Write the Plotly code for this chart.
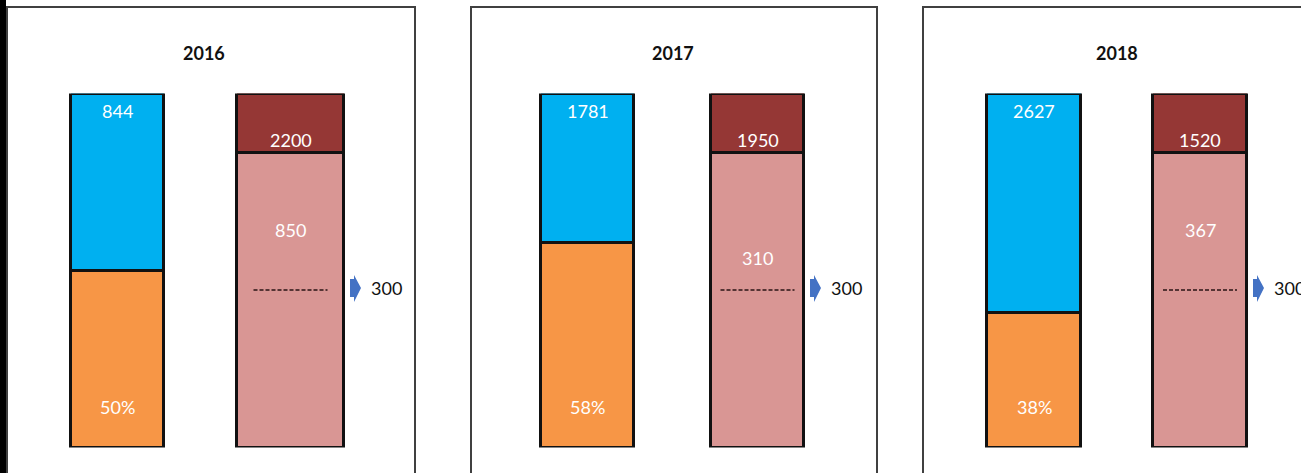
import plotly.graph_objects as go

# ---- data ----
years = ["2016", "2017", "2018"]
customers = [844, 1781, 2627]          # blue segment labels
orange_pct = [50, 58, 38]              # orange share of the left bar (%)
cap_values = [2200, 1950, 1520]        # dark red cap labels
base_values = [850, 310, 367]          # pink base labels
threshold = [300, 300, 300]            # marker value beside the right bar
cap_share = [16.8, 16.8, 16.8]         # right bar: cap share (%)
base_share = [83.2, 83.2, 83.2]        # right bar: base share (%)
threshold_level = [44.5, 44.5, 44.5]   # height of the dashed marker in the right bar (%)

# ---- layout constants (pixels) ----
W, H = 1301, 473
PANEL_LEFT = [7, 471, 923]
PANEL_RIGHT = [415, 877, 1330]
LEFT_CX = [117.5, 587.5, 1034.3]
RIGHT_CX = [290.5, 757.5, 1200.0]
LEFT_W = [93, 93, 94]
RIGHT_W = [107, 93, 94]
BAR_TOP_PX, BAR_BOTTOM_PX = 93.5, 447.5
PINK_LABEL_Y = [61.5, 53.5, 61.5]

BLUE = "#00B0F0"
ORANGE = "#F79646"
DARK_RED = "#953735"
PINK = "#D99694"
ARROW = "#4472C4"
FONT = "Lato"

# block arrow outline, in pixels relative to the right bar edge / marker level
ARROW_PATH = "M 6,-7 L 10,-7 L 10,-12 L 17,2 L 10,15 L 10,11 L 6,11 Z"

fig = go.Figure()
annotations = []
shapes = []

y_dom = [1 - BAR_BOTTOM_PX / H, 1 - BAR_TOP_PX / H]

for i, year in enumerate(years):
    n = i + 1
    xa = "x" if n == 1 else f"x{n}"
    ya = "y" if n == 1 else f"y{n}"
    unit = RIGHT_CX[i] - LEFT_CX[i]          # pixels per x unit
    right_px = min(PANEL_RIGHT[i], W)
    x_lo = (PANEL_LEFT[i] - LEFT_CX[i]) / unit
    x_hi = (right_px - LEFT_CX[i]) / unit
    lw = LEFT_W[i] / unit
    rw = RIGHT_W[i] / unit
    line = dict(color="#111111", width=3)

    # left bar: orange share at the bottom, blue remainder on top
    fig.add_trace(go.Bar(x=[0], y=[orange_pct[i]], width=[lw], marker=dict(color=ORANGE, line=line),
                         xaxis=xa, yaxis=ya, showlegend=False, hoverinfo="skip"))
    fig.add_trace(go.Bar(x=[0], y=[100 - orange_pct[i]], width=[lw], marker=dict(color=BLUE, line=line),
                         xaxis=xa, yaxis=ya, showlegend=False, hoverinfo="skip"))
    # right bar: pink base and dark red cap
    fig.add_trace(go.Bar(x=[1], y=[base_share[i]], width=[rw], marker=dict(color=PINK, line=line),
                         xaxis=xa, yaxis=ya, showlegend=False, hoverinfo="skip"))
    fig.add_trace(go.Bar(x=[1], y=[cap_share[i]], width=[rw], marker=dict(color=DARK_RED, line=line),
                         xaxis=xa, yaxis=ya, showlegend=False, hoverinfo="skip"))

    # dashed marker inside the pink base
    half = 37 / unit
    fig.add_trace(go.Scatter(x=[1 - half, 1 + half], y=[threshold_level[i]] * 2, mode="lines",
                             line=dict(color="#2a1414", width=1.5, dash="4px,2px"),
                             xaxis=xa, yaxis=ya, showlegend=False, hoverinfo="skip"))

    edge = 1 + rw / 2
    # arrow pointing at the marker
    shapes.append(dict(type="path", xref=xa, yref=ya, xsizemode="pixel", ysizemode="pixel",
                       xanchor=edge, yanchor=threshold_level[i], path=ARROW_PATH,
                       fillcolor=ARROW, line=dict(width=0)))

    fig.layout[f"xaxis{'' if n == 1 else n}"] = dict(
        domain=[PANEL_LEFT[i] / W, right_px / W], range=[x_lo, x_hi], visible=False,
        fixedrange=True, anchor=ya)
    fig.layout[f"yaxis{'' if n == 1 else n}"] = dict(
        domain=y_dom, range=[0, 100], visible=False, fixedrange=True, anchor=xa)

    txt = dict(color="white", size=18, family=FONT)
    annotations += [
        dict(x=0.5, y=1 - 53 / H, xref=xa, yref="paper", text=f"<b>{year}</b>", showarrow=False,
             font=dict(color="#111111", size=18, family=FONT), xanchor="center", yanchor="middle"),
        dict(x=0, y=100, xref=xa, yref=ya, text=str(customers[i]), showarrow=False, font=txt,
             yanchor="middle", yshift=-17),
        dict(x=0, y=0, xref=xa, yref=ya, text=f"{orange_pct[i]}%", showarrow=False, font=txt,
             yanchor="middle", yshift=41),
        dict(x=1, y=base_share[i], xref=xa, yref=ya, text=str(cap_values[i]), showarrow=False, font=txt,
             yanchor="middle", yshift=13),
        dict(x=1, y=PINK_LABEL_Y[i], xref=xa, yref=ya, text=str(base_values[i]), showarrow=False, font=txt,
             yanchor="middle"),
        dict(x=edge + 25 / unit, y=threshold_level[i] + 0.6, xref=xa, yref=ya, text=str(threshold[i]),
             showarrow=False, font=dict(color="#111111", size=18, family=FONT),
             xanchor="left", yanchor="middle"),
    ]
    # panel frame
    shapes.append(dict(type="rect", xref="paper", yref="paper",
                       x0=PANEL_LEFT[i] / W, x1=PANEL_RIGHT[i] / W, y0=-0.05, y1=1 - 7 / H,
                       line=dict(color="#404040", width=2), layer="below"))

# dark strip along the left edge
shapes.append(dict(type="rect", xref="paper", yref="paper", x0=0, x1=6 / W, y0=0, y1=1,
                   fillcolor="black", line=dict(width=0)))

fig.update_layout(
    width=W, height=H, margin=dict(l=0, r=0, t=0, b=0),
    paper_bgcolor="white", plot_bgcolor="rgba(0,0,0,0)",
    barmode="stack", bargap=0, annotations=annotations, shapes=shapes,
    font=dict(family=FONT),
)

fig.write_html("out.html", config={"displayModeBar": False})
